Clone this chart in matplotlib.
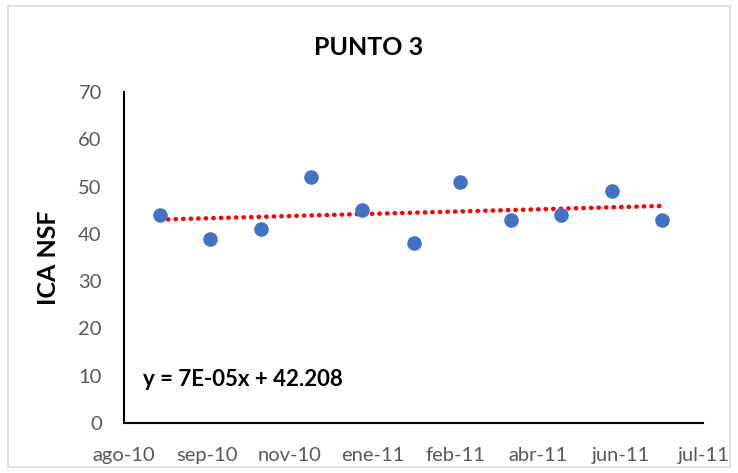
import numpy as np
import pandas as pd
import matplotlib
matplotlib.use("Agg")
import matplotlib.pyplot as plt
from matplotlib.patches import Rectangle

plt.rcParams['font.family'] = ['Lato', 'DejaVu Sans']

# monthly ICA NSF readings, point 3
fechas = pd.date_range("2010-09-01", "2011-07-01", freq="MS")
ica = [44, 39, 41, 52, 45, 38, 51, 43, 44, 49, 43]

# axis: date ticks every 50 days
x_inicio = pd.Timestamp("2010-08-10")
paso_dias = 50
etiquetas_x = ["ago-10", "sep-10", "nov-10", "ene-11", "feb-11", "abr-11", "jun-11", "jul-11"]
ticks_y = [0, 10, 20, 30, 40, 50, 60, 70]

x_num = np.array([(f - x_inicio).days for f in fechas], dtype=float)
ticks_x = [paso_dias * i for i in range(len(etiquetas_x))]

fig = plt.figure(figsize=(7.38, 4.73), dpi=100)
ax = fig.add_axes([0.168, 0.1057, 0.785, 0.70])

# light frame around the chart area
fig.patches.append(Rectangle((0.011, 0.013), 0.978, 0.974, transform=fig.transFigure,
                             fill=False, edgecolor="#D9D9D9", linewidth=1.2))

ax.scatter(x_num, ica, s=110, color="#4472C4", zorder=3, linewidths=0)

# linear trend
pend, inter = np.polyfit(x_num, ica, 1)
xt = np.array([x_num[0], x_num[-1]])
ax.plot(xt, pend * xt + inter, color="#FF0000", linestyle=(0, (0.1, 1.6)),
        linewidth=3.2, dash_capstyle="round", zorder=2)

ax.set_xlim(ticks_x[0], ticks_x[-1])
ax.set_ylim(0, 70)
ax.set_xticks(ticks_x)
ax.set_xticklabels(etiquetas_x)
ax.set_yticks(ticks_y)
ax.tick_params(length=0, labelsize=14.5, labelcolor="#595959")
ax.tick_params(axis="x", pad=17)
ax.tick_params(axis="y", pad=16)

for lado in ["top", "right"]:
    ax.spines[lado].set_visible(False)
for lado in ["left", "bottom"]:
    ax.spines[lado].set_color("black")
    ax.spines[lado].set_linewidth(1.5)

fig.text(0.50, 0.90, "PUNTO 3", fontsize=18, fontweight="bold", ha="center", va="center")
ax.set_ylabel("ICA NSF", fontsize=18, fontweight="bold", labelpad=13)
ax.text(0.033, 0.13, "y = 7E-05x + 42.208", transform=ax.transAxes,
        fontsize=16, fontweight="bold", va="center")

fig.savefig("out.png", dpi=100)
